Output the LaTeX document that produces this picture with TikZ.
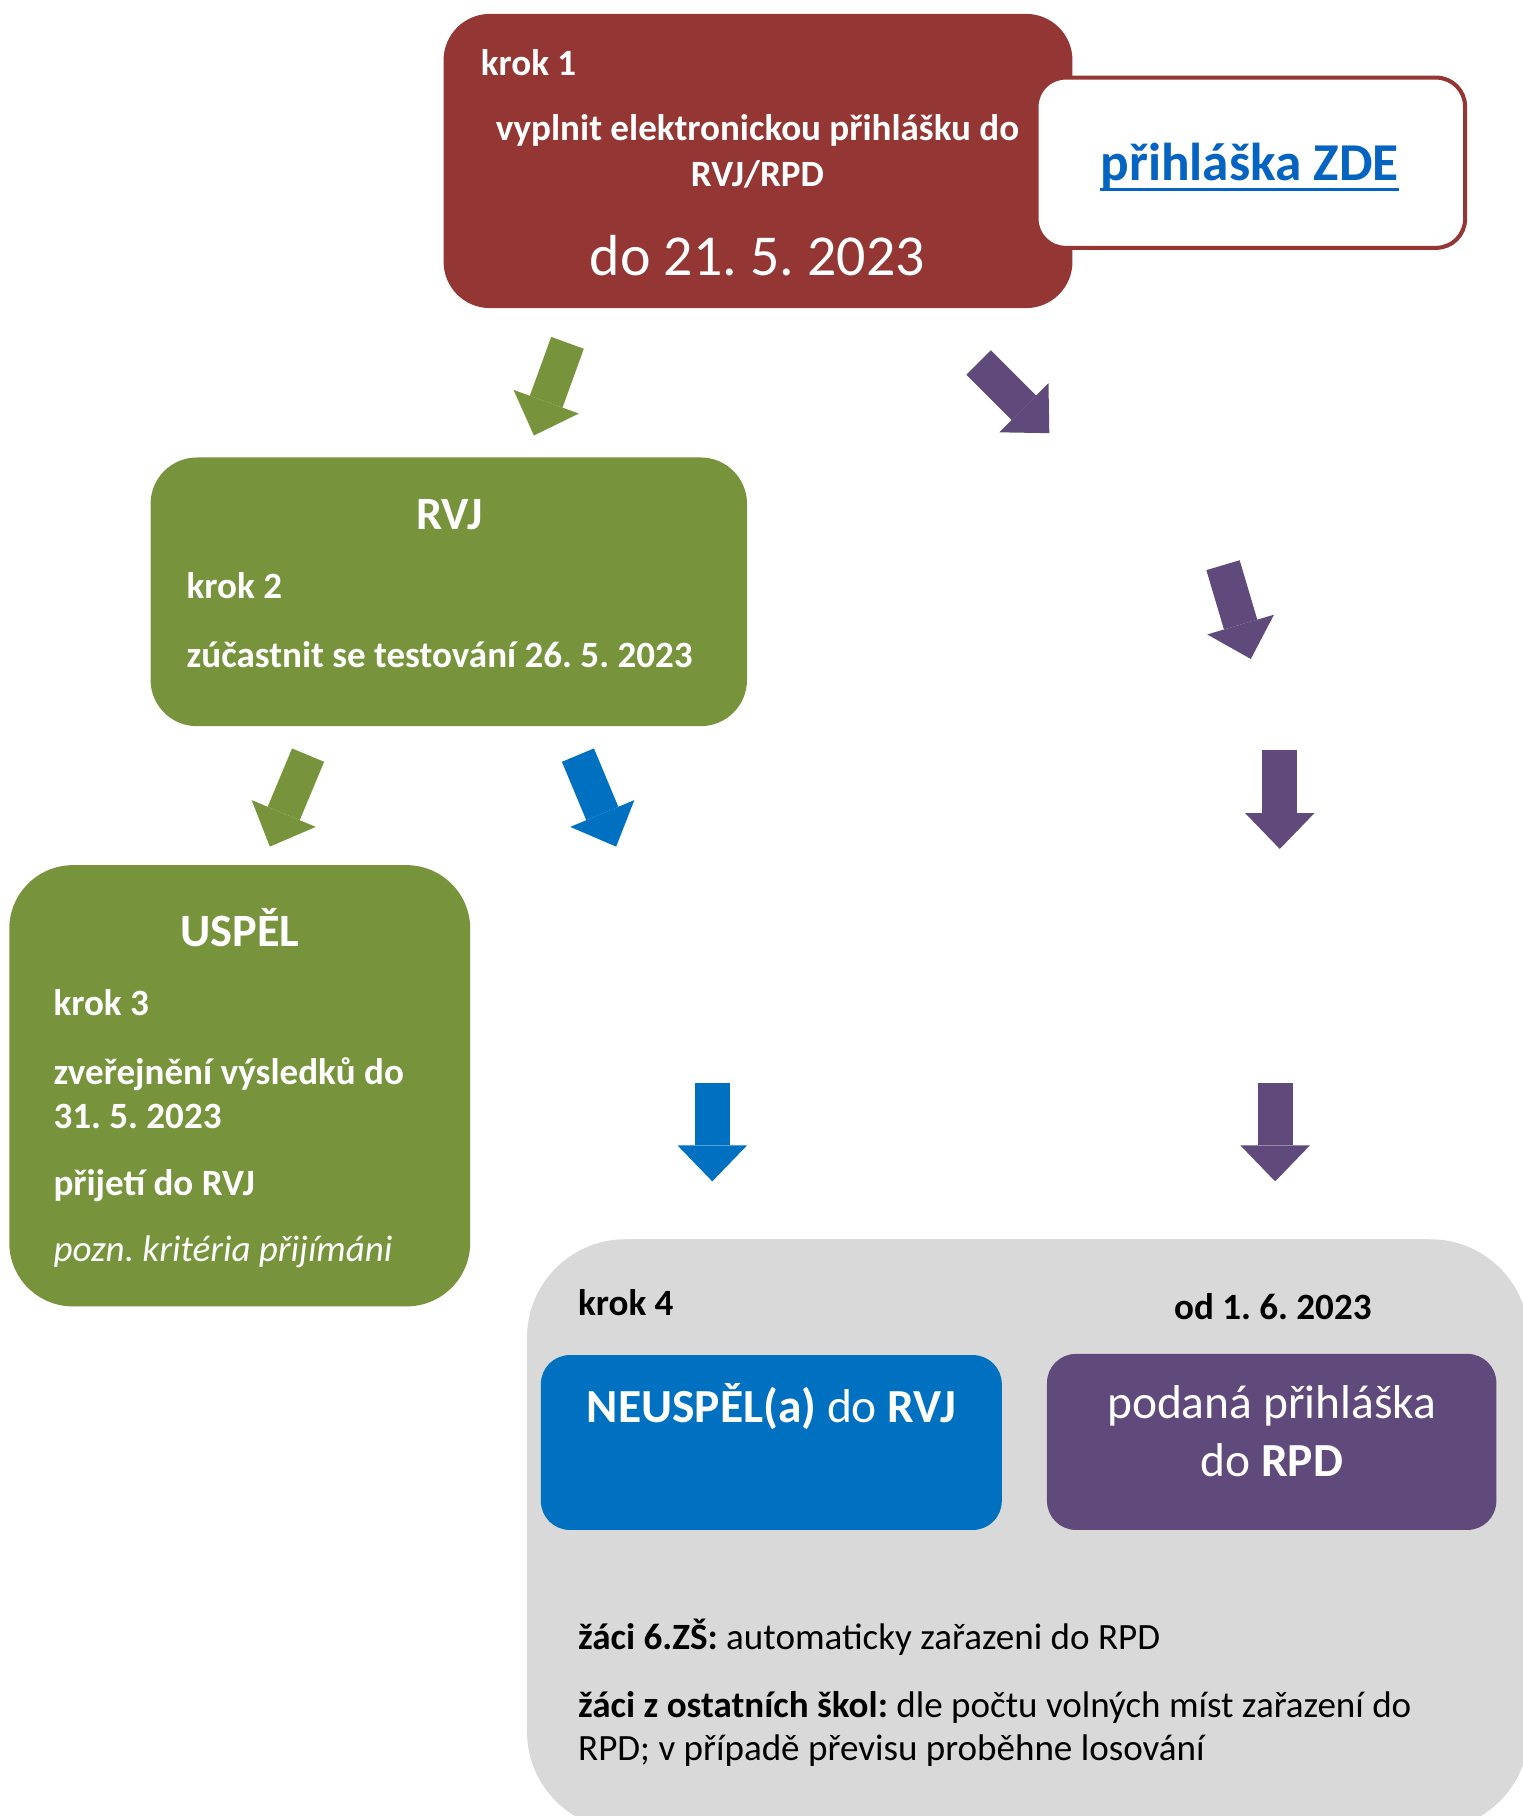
\documentclass[tikz,border=0pt]{standalone}
\usepackage{fontspec}
\setmainfont{Carlito}
\usepackage{xcolor}
\usetikzlibrary{arrows.meta}
\frenchspacing

\definecolor{krokred}{HTML}{943634}
\definecolor{rvjgreen}{HTML}{77933C}
\definecolor{rvjblue}{HTML}{0070C0}
\definecolor{rpdpurple}{HTML}{604A7B}
\definecolor{boxgray}{HTML}{D9D9D9}
\definecolor{linkblue}{HTML}{0563C1}

\newcommand{\fsz}[1]{\fontsize{#1}{#1}\selectfont}

\begin{document}
\begin{tikzpicture}[x=1pt, y=-1pt,
  txt/.style={inner sep=0pt, text=white, anchor=base west},
  mid/.style={inner sep=0pt, text=white, anchor=base},
  blk/.style={line width=30pt, -{Triangle[width=60pt, length=31pt, line width=0pt]}}]
  \useasboundingbox (0,0) rectangle (1315,1568);

  % krok 1 and the link box
  \fill[krokred, rounded corners=40pt] (383,12) rectangle (926,266);
  \filldraw[fill=white, draw=krokred, line width=3.5pt, rounded corners=25pt] (895,67) rectangle (1265,214);
  \node[txt, font=\bfseries\fsz{32}] (k1) at (415,65) {krok 1};
  \node[mid, font=\bfseries\fsz{32}] (k1a) at (654,121) {vyplnit elektronickou přihlášku do};
  \node[mid, font=\bfseries\fsz{32}] (k1b) at (654,161) {RVJ/RPD};
  \node[mid, font=\fsz{50}] (k1c) at (654,238) {do 21. 5. 2023};
  \node[mid, text=linkblue, font=\bfseries\fsz{46}] (link) at (1079,156) {přihláška ZDE};
  \draw[linkblue, line width=2.5pt] ([yshift=-8pt]link.base west) -- ([yshift=-8pt]link.base east);

  % RVJ, krok 2
  \fill[rvjgreen, rounded corners=40pt] (130,395) rectangle (645,627);
  \node[mid, font=\bfseries\fsz{40}] (rvj) at (388,457) {RVJ};
  \node[txt, font=\bfseries\fsz{32}] (k2) at (161,517) {krok 2};
  \node[txt, font=\bfseries\fsz{32}] (k2a) at (161,576) {zúčastnit se testování 26. 5. 2023};

  % USPEL, krok 3
  \fill[rvjgreen, rounded corners=55pt] (8,747) rectangle (406,1128);
  \node[mid, font=\bfseries\fsz{40}] (usp) at (207,817) {USPĚL};
  \node[txt, font=\bfseries\fsz{32}] (k3) at (46,877) {krok 3};
  \node[txt, font=\bfseries\fsz{32}] (k3a) at (46,936) {zveřejnění výsledků do};
  \node[txt, font=\bfseries\fsz{32}] (k3b) at (46,974) {31. 5. 2023};
  \node[txt, font=\bfseries\fsz{32}] (k3c) at (46,1032) {přijetí do RVJ};
  \node[txt, font=\itshape\fsz{32}] (k3d) at (46,1089) {pozn. kritéria přijímáni};

  % krok 4
  \fill[boxgray, rounded corners=85pt] (455,1070) rectangle (1320,1580);
  \node[txt, text=black, font=\bfseries\fsz{32}] (k4) at (499,1136) {krok 4};
  \node[mid, text=black, font=\bfseries\fsz{32}] (od) at (1099,1139) {od 1. 6. 2023};
  \fill[rvjblue, rounded corners=25pt] (467,1170) rectangle (865,1321);
  \node[mid, font=\fsz{41}] (neu) at (666,1228) {\textbf{NEUSPĚL(a)} do \textbf{RVJ}};
  \fill[rpdpurple, rounded corners=25pt] (904,1169) rectangle (1292,1321);
  \node[mid, font=\fsz{41}] (pod) at (1098,1225) {podaná přihláška};
  \node[mid, font=\fsz{41}] (rpd) at (1098,1275) {do \textbf{RPD}};
  \node[txt, text=black, font=\fsz{32}] (z1) at (499,1424) {\textbf{žáci 6.ZŠ:} automaticky zařazeni do RPD};
  \node[txt, text=black, font=\fsz{32}] (z2) at (499,1483) {\textbf{žáci z ostatních škol:} dle počtu volných míst zařazení do};
  \node[txt, text=black, font=\fsz{32}] (z3) at (499,1520) {RPD; v případě převisu proběhne losování};

  % block arrows
  \coordinate (g1s) at (490,296);  \coordinate (g1e) at (461,376);
  \coordinate (p1s) at (845,313);  \coordinate (p1e) at (906,374);
  \coordinate (g2s) at (266,652);  \coordinate (g2e) at (233,731);
  \coordinate (b1s) at (499,652);  \coordinate (b1e) at (532,731);
  \coordinate (p2s) at (1056,488); \coordinate (p2e) at (1080,569);
  \coordinate (p3s) at (1105,648); \coordinate (p3e) at (1105,733);
  \coordinate (b2s) at (615,935);  \coordinate (b2e) at (615,1020);
  \coordinate (p4s) at (1101,935); \coordinate (p4e) at (1101,1020);
  \draw[blk, rvjgreen] (g1s) -- (g1e);
  \draw[blk, rvjgreen] (g2s) -- (g2e);
  \draw[blk, rvjblue] (b1s) -- (b1e);
  \draw[blk, rvjblue] (b2s) -- (b2e);
  \draw[blk, rpdpurple] (p1s) -- (p1e);
  \draw[blk, rpdpurple] (p2s) -- (p2e);
  \draw[blk, rpdpurple] (p3s) -- (p3e);
  \draw[blk, rpdpurple] (p4s) -- (p4e);
\end{tikzpicture}
\end{document}
